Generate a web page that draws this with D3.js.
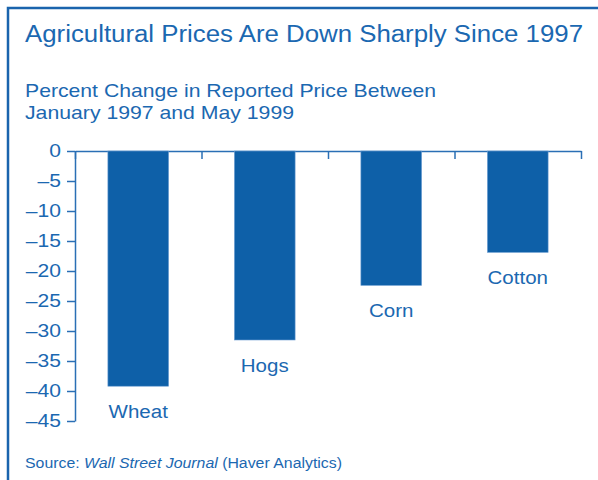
<!DOCTYPE html>
<meta charset="utf-8">
<script src="https://d3js.org/d3.v7.min.js"></script>
<style>
body { margin: 0; background: #fff; }
text { font-family: "Liberation Sans", Arial, sans-serif; fill: #1b68b1; }
.axis path, .axis line { stroke: #2a6fb5; stroke-width: 1.5; }
.axis text { font-size: 18px; fill: #1b68b1; }
</style>
<div id="chart"></div>
<script>
// data
var categories = ["Wheat", "Hogs", "Corn", "Cotton"];
var values = [-39.2, -31.5, -22.4, -16.9];
var yTicks = [0, -5, -10, -15, -20, -25, -30, -35, -40, -45];

var width = 598, height = 480;

// the original type is set a little wider than Liberation Sans
function widen(sel, k) {
  sel.each(function() {
    var w = this.getComputedTextLength();
    d3.select(this).attr("textLength", w * k).attr("lengthAdjust", "spacingAndGlyphs");
  });
}
function fitTo(sel, w) {
  sel.attr("textLength", w).attr("lengthAdjust", "spacingAndGlyphs");
}

var svg = d3.select("#chart")
  .append("svg")
    .attr("width", width)
    .attr("height", height);

// frame on the left and top
svg.append("path")
  .attr("d", "M8,480V8H598")
  .attr("fill", "none")
  .attr("stroke", "#1a64ad")
  .attr("stroke-width", 2.5);

fitTo(svg.append("text")
  .attr("x", 25).attr("y", 42)
  .style("font-size", "23.5px")
  .text("Agricultural Prices Are Down Sharply Since 1997"), 558);

fitTo(svg.append("text")
  .attr("x", 25).attr("y", 97)
  .style("font-size", "19px")
  .text("Percent Change in Reported Price Between"), 411);
fitTo(svg.append("text")
  .attr("x", 25).attr("y", 119)
  .style("font-size", "19px")
  .text("January 1997 and May 1999"), 269);

var y = d3.scaleLinear()
  .domain([-45, 0])
  .range([421, 151]);

var x = d3.scaleBand()
  .domain(categories)
  .range([75, 581])
  .paddingInner(0.52)
  .paddingOuter(0.26);

// category boundary ticks along the zero line
var xb = d3.scaleLinear().domain([0, categories.length]).range([75, 581]);
svg.append("g")
  .attr("class", "axis")
  .attr("transform", "translate(0," + y(0) + ")")
  .call(d3.axisBottom(xb).tickValues(d3.range(categories.length + 1)).tickSize(8).tickSizeOuter(0).tickFormat(""));

var yAxis = svg.append("g")
  .attr("class", "axis")
  .attr("transform", "translate(75,0)")
  .call(d3.axisLeft(y).tickValues(yTicks).tickSize(8).tickSizeOuter(0).tickPadding(6)
    .tickFormat(function(d) { return d === 0 ? "0" : "\u2013" + Math.abs(d); }));
widen(yAxis.selectAll("text"), 1.17);

// bars
svg.selectAll(".bar")
  .data(values)
  .enter()
  .append("rect")
    .attr("class", "bar")
    .attr("x", function(d, i) { return x(categories[i]); })
    .attr("y", y(0))
    .attr("width", x.bandwidth())
    .attr("height", function(d) { return y(d) - y(0); })
    .attr("fill", "#0e60a8")
    .attr("stroke", "#6f9fd2")
    .attr("stroke-width", 0.6);

// labels under bars
var lbl = svg.selectAll(".lbl")
  .data(values)
  .enter()
  .append("text")
    .attr("class", "lbl")
    .attr("x", function(d, i) { return x(categories[i]) + x.bandwidth() / 2; })
    .attr("y", function(d) { return y(d) + 32; })
    .attr("text-anchor", "middle")
    .style("font-size", "18px")
    .text(function(d, i) { return categories[i]; });
widen(lbl, 1.14);

// source line
var src = svg.append("text")
  .attr("x", 25).attr("y", 468)
  .style("font-size", "14px");
src.append("tspan").text("Source: ");
src.append("tspan").style("font-style", "italic").text("Wall Street Journal");
src.append("tspan").text(" (Haver Analytics)");
fitTo(src, 317);
</script>
